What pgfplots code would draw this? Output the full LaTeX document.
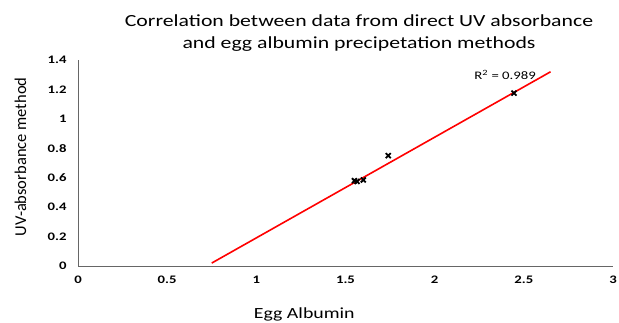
\documentclass[border=0pt]{standalone}
\usepackage{pgfplots}
\pgfplotsset{compat=1.18}
\usepackage{fontspec}
\setmainfont{Carlito}[FakeStretch=1.28]
\newfontfamily\plainfont{Carlito}
\begin{document}
\begin{tikzpicture}[x=1pt,y=1pt]
\useasboundingbox (0,0) rectangle (619,322);
\begin{axis}[
  at={(78pt,56pt)}, anchor=south west,
  scale only axis, width=535pt, height=206pt,
  xmin=0, xmax=3, ymin=0, ymax=1.4,
  xtick={0,0.5,...,3}, ytick={0,0.2,...,1.4},
  axis x line*=bottom, axis y line*=left,
  axis line style={gray!80!black, -},
  tick style={draw=none},
  /pgf/number format/assume math mode=true,
  ticklabel style={font=\fontsize{11.5}{12}\selectfont\bfseries},
  xticklabel style={yshift=-6pt},
  yticklabel style={xshift=-8pt},
  xlabel={Egg Albumin}, ylabel={\plainfont UV-absorbance method},
  label style={font=\fontsize{15.5}{16}\selectfont},
  xlabel style={at={(axis description cs:0.423,0)}, anchor=center, yshift=-48pt},
  ylabel style={at={(axis description cs:-0.1075,0.53)}, anchor=center, font=\fontsize{16.5}{17}\selectfont},
  clip=false,
]
\addplot[red, line width=1.6pt] coordinates {(0.75,0.02) (2.65,1.32)};
\addplot[only marks, mark=x, mark size=3.5pt, line width=1.8pt, black] coordinates {
(2.445,1.175) (1.74,0.75) (1.565,0.575) (1.60,0.585) (1.55,0.58)};
\node[font=\fontsize{11.5}{13}\selectfont] at (axis cs:2.395,1.30) {R\textsuperscript{2} = 0.989};
\end{axis}
\node[font=\fontsize{17}{18}\selectfont, align=center] at (359,289) {Correlation between data from direct UV absorbance\\[4pt]and egg albumin precipetation methods};
\end{tikzpicture}
\end{document}
